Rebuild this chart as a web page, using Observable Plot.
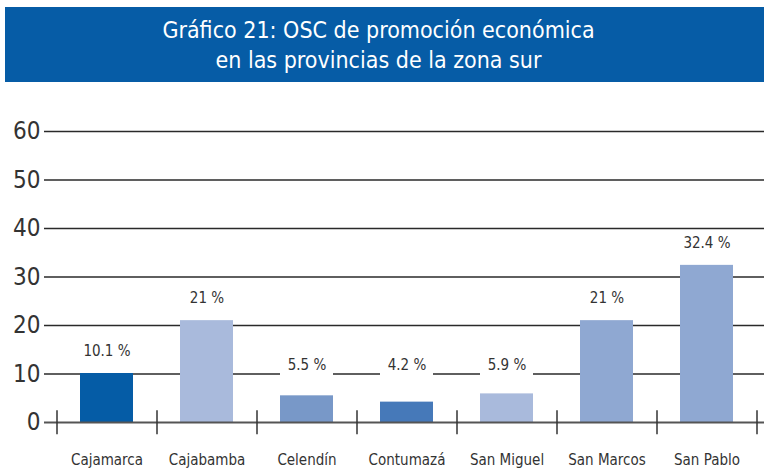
<!DOCTYPE html>
<html>
<head>
<meta charset="utf-8">
<script src="https://cdn.jsdelivr.net/npm/d3@7"></script>
<script src="https://cdn.jsdelivr.net/npm/@observablehq/plot@0.6"></script>
<style>
  body { margin: 0; background: #fff; font-family: "DejaVu Sans Condensed", "Liberation Sans Narrow", sans-serif; }
  #title { margin: 7px 0 0 5px; height: 75px; width: 759px; background: #065ca6; color: #fff;
    font-size: 23px; line-height: 30px; text-align: center; box-sizing: border-box; padding-top: 8px; padding-right: 12px; }
  #chart svg { display: block; }
</style>
</head>
<body>
<div id="title">Gráfico 21: OSC de promoción económica<br>en las provincias de la zona sur</div>
<div id="chart"></div>
<script>
const provinces = ["Cajamarca", "Cajabamba", "Celendín", "Contumazá", "San Miguel", "San Marcos", "San Pablo"];
const values = [10.1, 21, 5.5, 4.2, 5.9, 21, 32.4];
const labels = ["10.1 %", "21 %", "5.5 %", "4.2 %", "5.9 %", "21 %", "32.4 %"];
const colors = ["#055ca6", "#a9badc", "#7898c8", "#4679b9", "#a9badc", "#8fa8d2", "#8fa8d2"];
const yTicks = [0, 10, 20, 30, 40, 50, 60];

const data = provinces.map((p, i) => ({
  p, v: values[i], label: labels[i], color: colors[i],
  ly: Math.max(values[i] + 4.6, 11.8)
}));

// band boundaries: left edge of each band plus the right edge of the last one
const bounds = provinces.map((p, i) => ({ p, side: -1 })).concat([{ p: provinces[provinces.length - 1], side: 1 }]);

const font = '"DejaVu Sans Condensed", "Liberation Sans Narrow", sans-serif';

const chart = Plot.plot({
  width: 764,
  height: 391,
  marginLeft: 44,
  marginRight: 0,
  marginTop: 49,
  marginBottom: 51,
  style: { fontFamily: font, color: "#333", background: "#fff" },
  x: { domain: provinces, range: [56, 756], paddingInner: 0.47, paddingOuter: 0.235, align: 0.5 },
  y: { domain: [0, 60] },
  marks: [
    Plot.ruleY(yTicks.filter(d => d > 0), { stroke: "#2a2a2a", strokeWidth: 1.5 }),
    Plot.rectY(data, { x: "p", y1: "v", y2: d => d.ly + 2.2, fill: "white" }),
    Plot.barY(data, { x: "p", y: "v", fill: "color" }),
    Plot.ruleY([0], { stroke: "#555", strokeWidth: 2 }),
    Plot.ruleX(bounds.filter(d => d.side < 0), { x: "p", dx: -50, y1: -2.5, y2: 2.4, stroke: "#333", strokeWidth: 1.5 }),
    Plot.ruleX(bounds.filter(d => d.side > 0), { x: "p", dx: 50, y1: -2.5, y2: 2.4, stroke: "#333", strokeWidth: 1.5 }),
    Plot.axisY(yTicks, { anchor: "left", tickSize: 0, tickPadding: 4, fontSize: 24, fill: "#333", label: null }),
    Plot.axisX({ tickSize: 0, tickPadding: 32, fontSize: 15, fill: "#333", label: null }),
    Plot.text(data, { x: "p", y: "ly", text: "label", fontSize: 15, fill: "#333" })
  ]
});

document.getElementById("chart").appendChild(chart);
</script>
</body>
</html>
